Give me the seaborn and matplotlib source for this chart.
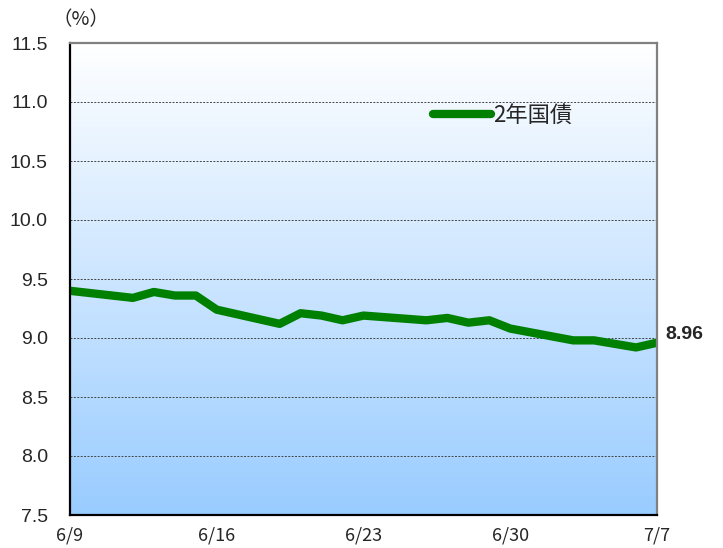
import numpy as np
import pandas as pd
import matplotlib
matplotlib.use("Agg")
import matplotlib.pyplot as plt
from matplotlib.colors import LinearSegmentedColormap
import seaborn as sns

# Data
dates = ["2023-06-09", "2023-06-12", "2023-06-13", "2023-06-14", "2023-06-15",
         "2023-06-16", "2023-06-19", "2023-06-20", "2023-06-21", "2023-06-22",
         "2023-06-23", "2023-06-26", "2023-06-27", "2023-06-28", "2023-06-29",
         "2023-06-30", "2023-07-03", "2023-07-04", "2023-07-06", "2023-07-07"]
yields = [9.40, 9.34, 9.39, 9.36, 9.36,
          9.24, 9.12, 9.21, 9.19, 9.15,
          9.19, 9.15, 9.17, 9.13, 9.15,
          9.08, 8.98, 8.98, 8.92, 8.96]
tick_dates = ["2023-06-09", "2023-06-16", "2023-06-23", "2023-06-30", "2023-07-07"]
tick_labels = ["6/9", "6/16", "6/23", "6/30", "7/7"]
series_name = "2年国債"

df = pd.DataFrame({"date": pd.to_datetime(dates), "yield": yields})

sns.set_style("white")
plt.rcParams["font.family"] = ["Liberation Sans", "DejaVu Sans"]
cjk = ["Noto Sans CJK JP", "DejaVu Sans"]

fig = plt.figure(figsize=(7.23, 5.48), dpi=100)
ax = fig.add_axes([70 / 723, 1 - 515 / 548, 587 / 723, 472 / 548])

# gradient background
cmap = LinearSegmentedColormap.from_list("bg", ["#ffffff", "#99ccff"])
grad = np.linspace(0, 1, 256).reshape(-1, 1)
ax.imshow(grad, cmap=cmap, aspect="auto", extent=[0, 1, 0, 1],
          transform=ax.transAxes, zorder=0)

sns.lineplot(data=df, x="date", y="yield", ax=ax, color="#008000",
             linewidth=6, label=series_name, zorder=3)

ax.set_ylim(7.5, 11.5)
ax.set_xlim(pd.Timestamp(tick_dates[0]), pd.Timestamp(tick_dates[-1]))
yt = np.arange(7.5, 11.51, 0.5)
ax.set_yticks(yt)
ax.set_yticklabels([f"{v:.1f}" for v in yt], fontsize=14)
ax.set_xticks(pd.to_datetime(tick_dates))
ax.set_xticklabels(tick_labels, family=cjk, fontsize=13)
ax.set_xlabel("")
ax.set_ylabel("")

for v in np.arange(8.0, 11.01, 0.5):
    ax.axhline(v, color="#444444", linestyle=(0, (2, 1.5)), linewidth=0.7, zorder=1)

ax.tick_params(axis="x", direction="in", length=5, width=0.8, color="#333333", pad=8)
ax.tick_params(axis="y", length=0, pad=16)

for side in ["left", "bottom"]:
    ax.spines[side].set_color("#000000")
    ax.spines[side].set_linewidth(1.6)
for side in ["top", "right"]:
    ax.spines[side].set_color("#808080")
    ax.spines[side].set_linewidth(1.6)
for s in ax.spines.values():
    s.set_zorder(5)

ax.legend(loc="center left", bbox_to_anchor=(0.585, 0.847), frameon=False,
          handlelength=2.6, handletextpad=0.1, prop={"family": cjk, "size": 16})

ax.annotate(f"{yields[-1]:.2f}", xy=(df["date"].iloc[-1], yields[-1]),
            xytext=(6, 6), textcoords="offset points", fontsize=14,
            fontweight="bold", va="center", ha="left", annotation_clip=False)

fig.text(52 / 723, 1 - 20 / 548, "（%）", family=cjk, fontsize=14, va="center", ha="left")

fig.savefig("out.png", dpi=100)
